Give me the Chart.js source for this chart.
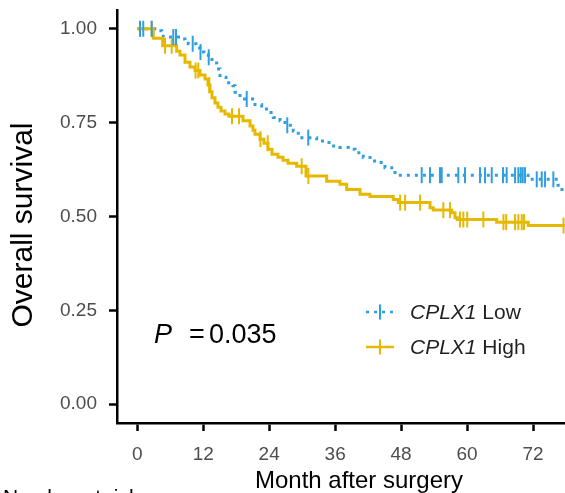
<!DOCTYPE html>
<html>
<head>
<meta charset="utf-8">
<script src="https://cdn.jsdelivr.net/npm/chart.js@4.4.0/dist/chart.umd.min.js"></script>
<style>
  html, body { margin: 0; padding: 0; background: #fff; overflow: hidden; }
  #km { display: block; }
</style>
</head>
<body>
<canvas id="km" width="565" height="493"></canvas>
<script>
// Kaplan-Meier steps (months, survival after the drop)
const highTimes = [0, 2.91, 4.62, 7.17, 7.77, 8.68, 9.59, 10.5, 11.41, 12.32, 12.86, 13.23, 13.59, 14.14, 14.68, 15.23, 15.96, 16.68, 19.23, 20.51, 21.05, 21.41, 22.33, 23.05, 23.78, 24.51, 25.6, 26.51, 27.42, 29.0, 30.7, 34.46, 36.88, 38.1, 40.52, 42.34, 46.58, 47.49, 53.26, 53.86, 57.21, 57.81, 58.22, 65.39, 71.14, 77.8];
const highSurv = [1.0, 0.975, 0.955, 0.94, 0.93, 0.911, 0.898, 0.889, 0.877, 0.866, 0.85, 0.832, 0.816, 0.802, 0.791, 0.781, 0.773, 0.767, 0.755, 0.741, 0.73, 0.719, 0.706, 0.695, 0.679, 0.666, 0.658, 0.65, 0.642, 0.634, 0.608, 0.594, 0.586, 0.572, 0.559, 0.553, 0.545, 0.537, 0.523, 0.517, 0.51, 0.497, 0.492, 0.485, 0.476, 0.476];
const highCensor = [0.49, 2.62, 5.04, 6.26, 10.6, 11.1, 13.1, 17.23, 18.51, 22.4, 23.73, 29.91, 31.12, 47.82, 48.73, 51.46, 55.68, 56.89, 58.71, 59.32, 60.04, 62.96, 66.62, 67.11, 68.73, 69.33, 69.95, 70.36, 77.55];

const lowTimes = [0, 3.53, 4.44, 4.73, 8.08, 8.68, 9.28, 10.68, 11.41, 12.14, 12.92, 13.59, 14.45, 15.05, 16.14, 17.41, 17.78, 18.69, 21.42, 22.63, 23.84, 24.75, 25.97, 26.87, 28.38, 29.29, 32.64, 34.15, 35.37, 36.88, 38.39, 39.61, 41.12, 42.34, 43.56, 45.07, 46.29, 47.2, 71.09, 76.55, 77.27, 77.8];
const lowSurv = [1.0, 0.995, 0.987, 0.978, 0.973, 0.968, 0.96, 0.949, 0.938, 0.93, 0.924, 0.909, 0.893, 0.871, 0.856, 0.848, 0.831, 0.813, 0.798, 0.786, 0.777, 0.764, 0.755, 0.743, 0.728, 0.71, 0.701, 0.697, 0.688, 0.684, 0.679, 0.67, 0.657, 0.648, 0.644, 0.63, 0.617, 0.61, 0.599, 0.583, 0.564, 0.564];
const lowCensor = [0.49, 1.09, 2.62, 6.55, 7.04, 10.08, 11.5, 13.0, 19.91, 27.29, 31.11, 51.75, 53.26, 55.08, 55.39, 58.41, 59.63, 62.36, 63.27, 64.49, 66.54, 67.21, 68.73, 69.33, 69.77, 70.13, 70.55, 72.68, 73.59, 74.19, 75.7];

const xTicks = [0, 12, 24, 36, 48, 60, 72];
const yTicks = [0, 0.25, 0.5, 0.75, 1];
const yTickLabels = ['0.00', '0.25', '0.50', '0.75', '1.00'];

const groupNames = ['Low', 'High'];
const geneName = 'CPLX1';
const pText = '0.035';

const colLow = '#2E9FDF';
const colHigh = '#E7B800';
const FONT = '"Liberation Sans", Arial, Helvetica, sans-serif';

// survival value of a step curve at time t
function survAt(times, surv, t) {
    let s = surv[0];
    for (let i = 0; i < times.length; i++) {
        if (times[i] <= t) s = surv[i];
    }
    return s;
}

function stepPoints(times, surv) {
    return times.map((t, i) => ({ x: t, y: surv[i] }));
}

function censorPoints(marks, times, surv) {
    return marks.map(t => ({ x: t, y: survAt(times, surv, t) }));
}

// titles, p value, legend
const annotations = {
    id: 'annotations',
    afterDraw(chart) {
        const ctx = chart.ctx;
        ctx.save();
        ctx.fillStyle = '#000';

        // y title
        ctx.save();
        ctx.translate(24, 225);
        ctx.rotate(-Math.PI / 2);
        ctx.font = '30px ' + FONT;
        ctx.textAlign = 'center';
        ctx.textBaseline = 'middle';
        ctx.fillText('Overall survival', 0, 0);
        ctx.restore();

        // x title
        ctx.font = '24px ' + FONT;
        ctx.textAlign = 'center';
        ctx.textBaseline = 'alphabetic';
        ctx.fillText('Month after surgery', 359, 488);

        // cut-off risk table heading
        ctx.font = '21px ' + FONT;
        ctx.textAlign = 'left';
        ctx.fillText('Number at risk', 3, 504);

        // p value
        ctx.font = 'italic 27px ' + FONT;
        ctx.fillText('P', 154, 343);
        ctx.font = '27px ' + FONT;
        ctx.fillText('=', 189, 343);
        ctx.fillText(pText, 209, 343);

        // legend
        const rows = [
            { y: 312, color: colLow, dash: [3, 5], name: groupNames[0], base: 318.5 },
            { y: 347, color: colHigh, dash: [], name: groupNames[1], base: 353.5 }
        ];
        rows.forEach(r => {
            ctx.strokeStyle = r.color;
            ctx.lineWidth = 2.5;
            ctx.setLineDash(r.dash);
            ctx.beginPath();
            ctx.moveTo(366, r.y);
            ctx.lineTo(394, r.y);
            ctx.stroke();
            ctx.setLineDash([]);
            ctx.lineWidth = 2;
            ctx.beginPath();
            ctx.moveTo(380, r.y - 7.5);
            ctx.lineTo(380, r.y + 7.5);
            ctx.stroke();

            ctx.fillStyle = '#231f20';
            ctx.font = 'italic 21px ' + FONT;
            ctx.fillText(geneName, 410, r.base);
            const w = ctx.measureText(geneName + ' ').width;
            ctx.font = '21px ' + FONT;
            ctx.fillText(r.name, 410 + w, r.base);
        });
        ctx.restore();
    }
};

const ctx = document.getElementById('km').getContext('2d');
const chart = new Chart(ctx, {
    type: 'line',
    data: {
        datasets: [
            {
                label: 'Low censored',
                type: 'scatter',
                data: censorPoints(lowCensor, lowTimes, lowSurv),
                pointStyle: 'line',
                rotation: 90,
                radius: 8,
                borderWidth: 2,
                borderColor: colLow,
                order: 0
            },
            {
                label: 'High censored',
                type: 'scatter',
                data: censorPoints(highCensor, highTimes, highSurv),
                pointStyle: 'line',
                rotation: 90,
                radius: 8,
                borderWidth: 2,
                borderColor: colHigh,
                order: 1
            },
            {
                label: 'High',
                data: stepPoints(highTimes, highSurv),
                stepped: true,
                borderColor: colHigh,
                borderWidth: 3,
                pointRadius: 0,
                fill: false,
                order: 2
            },
            {
                label: 'Low',
                data: stepPoints(lowTimes, lowSurv),
                stepped: true,
                borderColor: colLow,
                borderWidth: 3,
                borderDash: [3, 5],
                pointRadius: 0,
                fill: false,
                order: 3
            }
        ]
    },
    options: {
        responsive: false,
        animation: false,
        devicePixelRatio: 1,
        layout: { autoPadding: false, padding: { top: 10, right: 0, bottom: 0, left: 0 } },
        plugins: {
            legend: { display: false },
            tooltip: { enabled: false }
        },
        scales: {
            x: {
                type: 'linear',
                min: -3.69,
                max: 77.82,
                afterFit: s => { s.height = 70; s.paddingLeft = 0; s.paddingRight = 0; },
                afterBuildTicks: s => { s.ticks = xTicks.map(v => ({ value: v })); },
                grid: {
                    drawOnChartArea: false,
                    drawTicks: true,
                    tickLength: 8,
                    tickWidth: 2.5,
                    tickColor: '#000'
                },
                border: { display: true, color: '#000', width: 2.5 },
                ticks: {
                    color: '#4d4d4d',
                    font: { family: FONT, size: 19 },
                    padding: 12,
                    maxRotation: 0
                }
            },
            y: {
                min: -0.05,
                max: 1.05,
                afterFit: s => { s.width = 117; s.paddingTop = 0; s.paddingBottom = 0; },
                afterBuildTicks: s => { s.ticks = yTicks.map(v => ({ value: v })); },
                grid: {
                    drawOnChartArea: false,
                    drawTicks: true,
                    tickLength: 8,
                    tickWidth: 2.5,
                    tickColor: '#000'
                },
                border: { display: true, color: '#000', width: 2.5 },
                ticks: {
                    color: '#4d4d4d',
                    font: { family: FONT, size: 19 },
                    padding: 12,
                    callback: v => yTickLabels[yTicks.indexOf(v)]
                }
            }
        }
    },
    plugins: [annotations]
});
</script>
</body>
</html>
